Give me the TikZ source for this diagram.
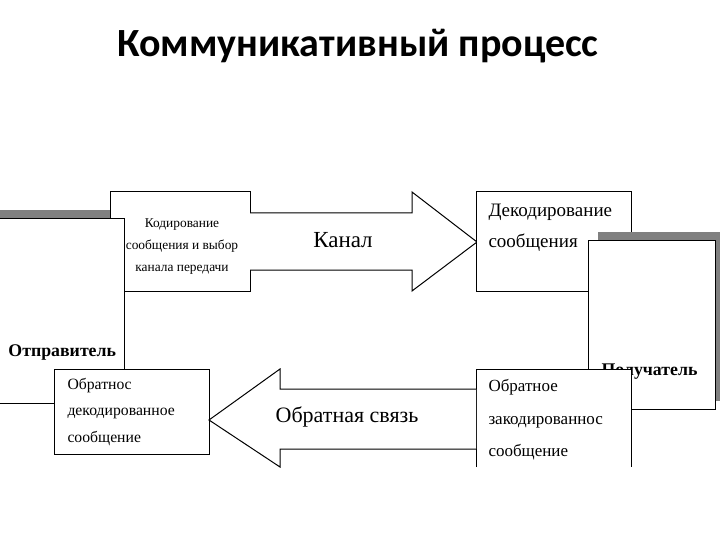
\documentclass[tikz,border=0pt]{standalone}
\usepackage{fontspec}
\setmainfont{Liberation Serif}
\newfontfamily\titlefont{Carlito}
\begin{document}
\begin{tikzpicture}[x=1pt,y=-1pt,line width=1pt,
  box/.style={draw=black,fill=white},
  shade/.style={fill=black!50,draw=none},
  txt/.style={inner sep=0pt,anchor=west},
  big/.style={draw=black,fill=white,line join=miter}]
\useasboundingbox (0,0) rectangle (720,540);
\clip (0,0) rectangle (720,540);
% title
\node[inner sep=0pt] (title) at (358,46) {\titlefont\bfseries\fontsize{40}{43}\selectfont Коммуникативный процесс};
% sender shadow and encoding box
\fill[shade] (-10,210) rectangle (124,219);
\draw[box] (110,192) rectangle (250,291);
\draw[box] (-10,219) rectangle (124,403);
\node[inner sep=0pt,align=center,font=\fontsize{13.4}{22}\selectfont] (enc) at (182,247) {Кодирование\\сообщения и выбор\\канала передачи};
% feedback decoded box
\draw[box] (54,369) rectangle (209,454);
\node[txt,font=\fontsize{15.7}{26.5}\selectfont,align=left] (fbdec) at (67,412) {Обратнос\\декодированное\\сообщение};
\node[txt,font=\bfseries\fontsize{17.8}{20}\selectfont] (sender) at (8,352) {Отправитель};
% channel arrow
\draw[big] (250,213) -- (412,213) -- (412,192) -- (477,242) -- (412,291) -- (412,270) -- (250,270);
\node[inner sep=0pt,font=\fontsize{23}{26}\selectfont] (chan) at (343,240) {Канал};
% decoding box
\draw[box] (476,192) rectangle (631,291);
\node[txt,font=\fontsize{19}{31}\selectfont,align=left] (dec) at (488,228) {Декодирование\\сообщения};
% receiver
\fill[shade] (598,232) rectangle (725,401);
\draw[box] (588,240) rectangle (715,409);
\node[txt,font=\bfseries\fontsize{17.8}{20}\selectfont] (recv) at (601,372) {Получатель};
% feedback encoded box
\fill[white] (476,369) rectangle (631,467);
\draw (476,467) -- (476,369) -- (631,369) -- (631,467);
\node[txt,font=\fontsize{17}{32.5}\selectfont,align=left] (fbenc) at (488,420) {Обратное\\закодированнос\\сообщение};
% feedback arrow
\draw[big] (476,389) -- (280,389) -- (280,369) -- (209,420) -- (280,467) -- (280,449) -- (476,449);
\node[inner sep=0pt,font=\fontsize{22}{25}\selectfont] (fb) at (347,417) {Обратная связь};
\end{tikzpicture}
\end{document}
